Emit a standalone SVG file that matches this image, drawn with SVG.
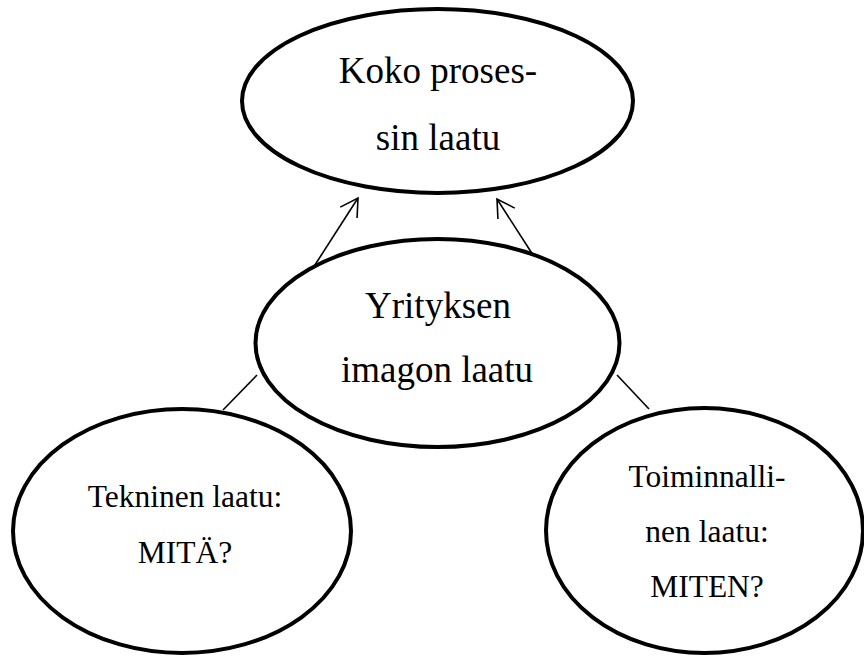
<svg xmlns="http://www.w3.org/2000/svg" width="864" height="657" viewBox="0 0 864 657">
  <style>
    .node ellipse { fill: #ffffff; stroke: #000000; stroke-width: 4; }
    .node text { font-family: "Liberation Serif", "Times New Roman", serif; fill: #000000; text-anchor: middle; }
    .big { font-size: 37px; }
    .small { font-size: 31.5px; }
    .conn line { stroke: #000000; stroke-width: 1.6; fill: none; }
  </style>
  <defs>
    <marker id="open" markerUnits="userSpaceOnUse" viewBox="-22 -12 24 24" markerWidth="24" markerHeight="24" refX="0" refY="0" orient="auto">
      <path d="M-17.3,-10 L0,0 L-17.3,10" fill="none" stroke="#000000" stroke-width="1.6"/>
    </marker>
  </defs>
  <rect width="864" height="657" fill="#ffffff"/>
  <g id="connectors" class="conn">
    <line x1="313" y1="268" x2="358" y2="198" marker-end="url(#open)"/>
    <line x1="533" y1="255" x2="497" y2="199" marker-end="url(#open)"/>
    <line x1="257" y1="375" x2="223" y2="410"/>
    <line x1="617" y1="375" x2="649" y2="409"/>
  </g>
  <g id="koko" class="node">
    <ellipse cx="437.5" cy="101" rx="195.5" ry="92"/>
    <text class="big" x="438" y="83">Koko proses-</text>
    <text class="big" x="438" y="150">sin laatu</text>
  </g>
  <g id="yritys" class="node">
    <ellipse cx="437.5" cy="343" rx="182" ry="104"/>
    <text class="big" x="438" y="318">Yrityksen</text>
    <text class="big" x="437" y="382">imagon laatu</text>
  </g>
  <g id="tekninen" class="node">
    <ellipse cx="182" cy="531" rx="169" ry="122"/>
    <text class="small" x="185" y="507">Tekninen laatu:</text>
    <text class="small" x="185" y="563">MITÄ?</text>
  </g>
  <g id="toiminnallinen" class="node">
    <ellipse cx="704.5" cy="530.5" rx="158.5" ry="122.5"/>
    <text class="small" x="707" y="487">Toiminnalli-</text>
    <text class="small" x="707" y="542">nen laatu:</text>
    <text class="small" x="707" y="597">MITEN?</text>
  </g>
</svg>
